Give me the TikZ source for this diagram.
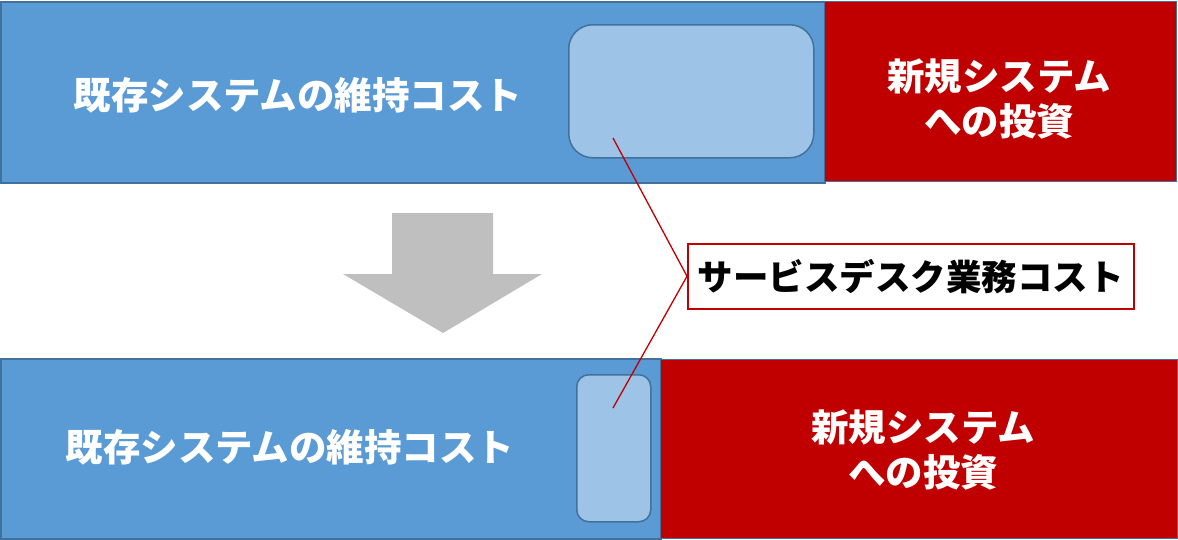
\documentclass[tikz,border=0pt]{standalone}
\usepackage{fontspec}
\newfontfamily\jp{Noto Sans CJK JP}
\definecolor{bluefill}{HTML}{5B9BD5}
\definecolor{blueedge}{HTML}{41719C}
\definecolor{lightblue}{HTML}{9DC3E6}
\definecolor{darkred}{HTML}{C00000}
\definecolor{arrowgray}{HTML}{BFBFBF}
\tikzset{
  bluebox/.style={draw=blueedge, line width=2pt, fill=bluefill, inner sep=0pt, anchor=north west},
  redbox/.style={draw=blueedge, line width=1pt, fill=darkred, inner sep=0pt, anchor=north west},
  innerbox/.style={draw=blueedge, line width=1.5pt, fill=lightblue, inner sep=0pt, anchor=north west, rounded corners=#1},
  boxtext/.style={text=white, font=\jp\bfseries\fontsize{37.5}{45}\selectfont, align=center},
  labelbox/.style={draw=darkred, line width=1.5pt, fill=white, inner sep=0pt, anchor=north west,
    font=\jp\bfseries\fontsize{35.5}{42}\selectfont, text=black},
  callout/.style={draw=darkred, line width=1.3pt}
}
\begin{document}
\begin{tikzpicture}[x=1pt,y=-1pt]
\useasboundingbox (0,0) rectangle (1178,539);
% top row
\node[bluebox, minimum width=824pt, minimum height=181pt] (tb) at (0,1) {};
\node[redbox, minimum width=352pt, minimum height=180pt] (tr) at (824,0.5) {};
\node[innerbox=24pt, minimum width=245pt, minimum height=133pt] (ti) at (568,24) {};
\node[boxtext] (tbt) at (298,95) {既存システムの維持コスト};
\node[boxtext] (trt) at (999,99) {新規システム\\への投資};
% arrow
\fill[arrowgray] (392,213) -- (493,213) -- (493,274) -- (542,274) -- (443,333)
  -- (343,274) -- (392,274) -- cycle;
% bottom row
\node[bluebox, minimum width=660pt, minimum height=180pt] (bb) at (0,358) {};
\node[redbox, minimum width=517pt, minimum height=179pt] (br) at (660,358.5) {};
\node[innerbox=12pt, minimum width=74pt, minimum height=147pt] (bi) at (576,374) {};
\node[boxtext] (bbt) at (290,447) {既存システムの維持コスト};
\node[boxtext] (brt) at (923,450) {新規システム\\への投資};
% label
\node[labelbox, minimum width=446pt, minimum height=65pt] (lab) at (687,243) {サービスデスク業務コスト};
\coordinate (tp) at (613,138);
\coordinate (bp) at (613,408);
\draw[callout] (tp) -- (lab.west) -- (bp);
\end{tikzpicture}
\end{document}
